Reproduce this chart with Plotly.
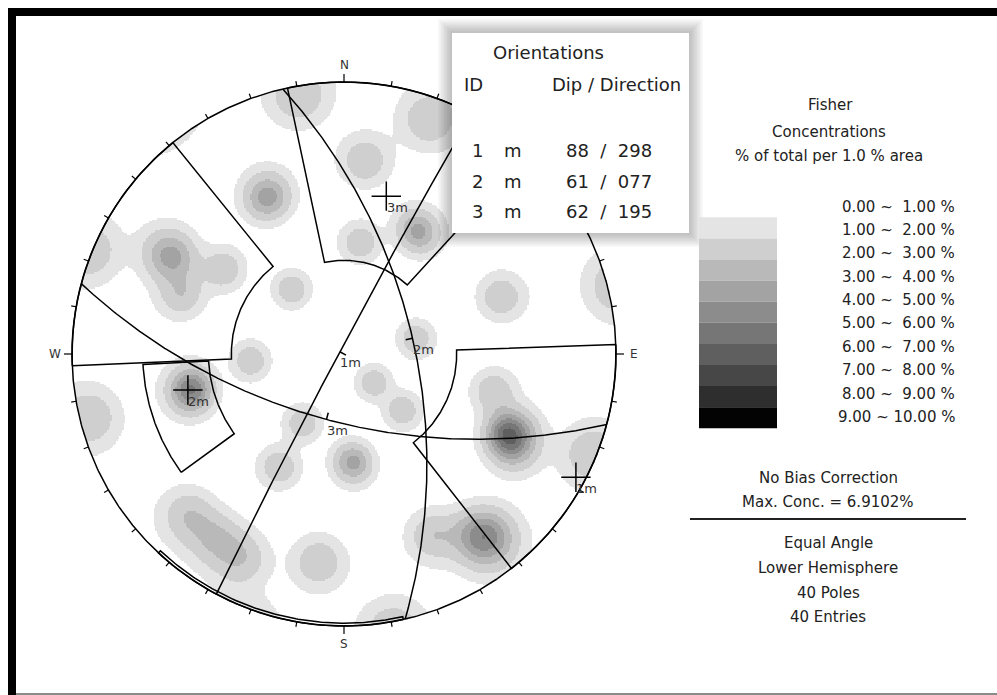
import numpy as np
import plotly.graph_objects as go

# ---------------- data ----------------
# 40 poles (trend / plunge, degrees), lower hemisphere
pole_trend = [350, 20, 333, 335, 6, 300, 299, 305, 290, 321,
              8, 29, 33, 224, 215, 207, 210, 176, 175, 211,
              134, 134, 78, 266, 257, 255, 259, 116, 115, 116,
              119, 104, 70, 256, 112, 154, 144, 141, 143, 187]
pole_plunge = [2, 5, 25, 24, 19, 16, 19, 33, 25, 56,
               45, 34, 35, 11, 11, 10, 39, 48, 45, 57,
               73, 57, 60, 52, 29, 30, 31, 22, 22, 23,
               19, 31, 27, 2, 1, 17, 12, 9, 8, 15]

# mean set planes
set_id = ["1", "2", "3"]
set_dip = [88, 61, 62]
set_dipdir = [298, 77, 195]

# set windows (trend range / plunge range)
win_trend_min = [348, 267.5, 234, 88, 167.4]
win_trend_max = [402.5, 321, 267, 142, 223]
win_plunge_min = [0, 0, 17, 0, 0]
win_plunge_max = [52, 45, 37, 45, 0.6]

band_labels = ["0.00 ~  1.00 %", "1.00 ~  2.00 %", "2.00 ~  3.00 %",
               "3.00 ~  4.00 %", "4.00 ~  5.00 %", "5.00 ~  6.00 %",
               "6.00 ~  7.00 %", "7.00 ~  8.00 %", "8.00 ~  9.00 %",
               "9.00 ~ 10.00 %"]
band_colors = ["#e4e4e4", "#cfcfcf", "#b9b9b9", "#a3a3a3", "#8c8c8c",
               "#767676", "#5f5f5f", "#474747", "#2e2e2e", "#030303"]

# Fisher counting parameters (% of total per 1 % area)
KAPPA = 160.0
PEAK = 1.85
FLOOR = 0.35

# ---------------- layout geometry ----------------
W, H = 997, 695
CX, CY, R = 344.0, 354.0, 272.0
FONT = "DejaVu Sans"
TXT = "#222222"


def px(x):
    return x / W


def py(y):
    return 1 - y / H


def proj(trend_deg, plunge_deg):
    t = np.radians(trend_deg)
    p = np.radians(plunge_deg)
    r = np.tan((np.pi / 2 - p) / 2)
    return r * np.sin(t), r * np.cos(t)


def vec(trend_deg, plunge_deg):
    t = np.radians(np.asarray(trend_deg, float))
    p = np.radians(np.asarray(plunge_deg, float))
    return np.stack([np.cos(p) * np.sin(t), np.cos(p) * np.cos(t), np.sin(p)], -1)


# ---------------- density grid ----------------
G = 363
g = np.linspace(-1, 1, G)
X, Y = np.meshgrid(g, g)
RR = np.sqrt(X ** 2 + Y ** 2)
inside = RR <= 1.0
phi = 2 * np.arctan(np.minimum(RR, 1.0))
T = np.arctan2(X, Y)
V = np.stack([np.sin(phi) * np.sin(T), np.sin(phi) * np.cos(T), np.cos(phi)], -1)
P = vec(pole_trend, pole_plunge)
dots = np.abs(np.einsum("ijk,nk->ijn", V, P))
density = PEAK * np.exp(KAPPA * (dots - 1)).sum(-1)
band = np.clip(np.floor(density), 0, 9) + 0.5
Z = np.where(inside & (density >= FLOOR), band, np.nan)

cscale = []
for k, c in enumerate(band_colors):
    cscale.append([k / 10, c])
    cscale.append([(k + 1) / 10, c])

fig = go.Figure()
fig.add_trace(go.Heatmap(x=g, y=g, z=Z, zmin=0, zmax=10, colorscale=cscale,
                         showscale=False, zsmooth=False, hoverinfo="skip"))

LINE = dict(color="black", width=1.5)

# primitive circle
a = np.linspace(0, 2 * np.pi, 721)
fig.add_trace(go.Scatter(x=np.sin(a), y=np.cos(a), mode="lines", line=LINE,
                         hoverinfo="skip", showlegend=False))

# azimuth ticks
tx, ty = [], []
for az in range(0, 360, 10):
    L = 8 if az % 90 == 0 else 5
    s, c = np.sin(np.radians(az)), np.cos(np.radians(az))
    tx += [s, s * (1 + L / R), None]
    ty += [c, c * (1 + L / R), None]
fig.add_trace(go.Scatter(x=tx, y=ty, mode="lines", line=dict(color="black", width=1.2),
                         hoverinfo="skip", showlegend=False))

# set windows
wx, wy = [], []
for t0, t1, p0, p1 in zip(win_trend_min, win_trend_max, win_plunge_min, win_plunge_max):
    ts = np.linspace(t0, t1, 120)
    ox, oy = proj(ts, np.full_like(ts, p0))
    ix, iy = proj(ts[::-1], np.full_like(ts, p1))
    xs = np.concatenate([ox, ix, ox[:1]])
    ys = np.concatenate([oy, iy, oy[:1]])
    wx += list(xs) + [None]
    wy += list(ys) + [None]
fig.add_trace(go.Scatter(x=wx, y=wy, mode="lines", line=LINE,
                         hoverinfo="skip", showlegend=False))

# great circles, apex stubs and labels
gx, gy, sx, sy = [], [], [], []
annotations = []
for sid, dip, dd in zip(set_id, set_dip, set_dipdir):
    al, de = np.radians(dd), np.radians(dip)
    s_vec = np.array([np.sin(al - np.pi / 2), np.cos(al - np.pi / 2), 0.0])
    d_vec = np.array([np.sin(al) * np.cos(de), np.cos(al) * np.cos(de), np.sin(de)])
    lam = np.radians(np.linspace(0, 180, 361))
    v = np.cos(lam)[:, None] * s_vec + np.sin(lam)[:, None] * d_vec
    pl = np.degrees(np.arcsin(np.clip(v[:, 2], -1, 1)))
    tr = np.degrees(np.arctan2(v[:, 0], v[:, 1]))
    x, y = proj(tr, pl)
    gx += list(x) + [None]
    gy += list(y) + [None]
    ax_, ay_ = proj(dd, dip)
    pxp, pyp = proj(dd + 180, 90 - dip)
    dx, dy = pxp - ax_, pyp - ay_
    n = np.hypot(dx, dy)
    sx += [ax_, ax_ + dx / n * 7 / R, None]
    sy += [ay_, ay_ + dy / n * 7 / R, None]
    annotations.append(dict(x=ax_, y=ay_, xref="x", yref="y", text=sid + "m",
                            showarrow=False, xshift=11, yshift=-11,
                            font=dict(family=FONT, size=13, color="#333333")))
    annotations.append(dict(x=pxp, y=pyp, xref="x", yref="y", text=sid + "m",
                            showarrow=False, xshift=11, yshift=-11,
                            font=dict(family=FONT, size=13, color="#333333")))
    fig.add_trace(go.Scatter(x=[pxp], y=[pyp], mode="markers",
                             marker=dict(symbol="cross-thin", size=21,
                                         line=dict(color="black", width=1.5)),
                             hoverinfo="skip", showlegend=False))
fig.add_trace(go.Scatter(x=gx, y=gy, mode="lines", line=LINE,
                         hoverinfo="skip", showlegend=False))
fig.add_trace(go.Scatter(x=sx, y=sy, mode="lines", line=LINE,
                         hoverinfo="skip", showlegend=False))

# compass letters
for lab, az in [("N", 0), ("E", 90), ("S", 180), ("W", 270)]:
    rr = 1 + 17.5 / R
    annotations.append(dict(x=rr * np.sin(np.radians(az)), y=rr * np.cos(np.radians(az)),
                            xref="x", yref="y", text=lab, showarrow=False,
                            font=dict(family=FONT, size=12, color="#333333")))

shapes = []
# outer frame
shapes.append(dict(type="rect", xref="paper", yref="paper", x0=px(8), x1=px(16),
                   y0=py(695), y1=py(8), fillcolor="black", line=dict(width=0), layer="above"))
shapes.append(dict(type="rect", xref="paper", yref="paper", x0=px(8), x1=px(997),
                   y0=py(16), y1=py(8), fillcolor="black", line=dict(width=0), layer="above"))
shapes.append(dict(type="rect", xref="paper", yref="paper", x0=px(16), x1=px(997),
                   y0=py(695), y1=py(693), fillcolor="#8a8a8a", line=dict(width=0), layer="above"))

# orientations box with soft shadow
bx0, by0, bx1, by1 = 452, 33, 689, 233
for i in range(9):
    e = 14 - i * 1.5
    shapes.append(dict(type="rect", xref="paper", yref="paper",
                       x0=px(bx0 - e), x1=px(bx1 + e), y0=py(by1 + e), y1=py(by0 - e),
                       fillcolor="rgba(0,0,0,0.028)", line=dict(width=0), layer="above"))
shapes.append(dict(type="rect", xref="paper", yref="paper", x0=px(bx0), x1=px(bx1),
                   y0=py(by1), y1=py(by0), fillcolor="white", line=dict(width=0), layer="above"))


def note(text, x, y, size, xanchor="center"):
    annotations.append(dict(x=px(x), y=py(y), xref="paper", yref="paper", text=text,
                            showarrow=False, xanchor=xanchor, yanchor="middle",
                            font=dict(family=FONT, size=size, color=TXT)))


NB = "\u00a0"
note("Orientations", 548, 52, 18)
note("ID", 473, 84, 18)
note("Dip / Direction", 616, 84, 18)
for i, (sid, dip, dd) in enumerate(zip(set_id, set_dip, set_dipdir)):
    yy = 150 + i * 31
    note(sid, 477, yy, 18)
    note("m", 513, yy, 18)
    note(f"{dip:02d}{NB}{NB}/{NB}{NB}{dd:03d}", 609, yy, 18)

# concentration legend
note("Fisher", 830, 105, 15)
note("Concentrations", 829, 132, 15)
note("% of total per 1.0 % area", 829, 156, 15)
bar_top, bar_h = 217.3, 21.1
for k, (lab, col) in enumerate(zip(band_labels, band_colors)):
    shapes.append(dict(type="rect", xref="paper", yref="paper", x0=px(699), x1=px(777),
                       y0=py(bar_top + (k + 1) * bar_h), y1=py(bar_top + k * bar_h),
                       fillcolor=col, line=dict(width=0), layer="above"))
    note(lab.replace(" ", NB), 957, 206.7 + k * 23.35, 15, xanchor="right")

note("No Bias Correction", 828, 478, 15)
note("Max. Conc. = 6.9102%", 828, 502, 15)
shapes.append(dict(type="line", xref="paper", yref="paper", x0=px(690), x1=px(966),
                   y0=py(519), y1=py(519), line=dict(color="#222222", width=2), layer="above"))
note("Equal Angle", 828, 543, 15)
note("Lower Hemisphere", 828, 568, 15)
note("40 Poles", 828, 593, 15)
note("40 Entries", 828, 617, 15)

fig.update_layout(
    width=W, height=H, margin=dict(l=0, r=0, t=0, b=0),
    paper_bgcolor="white", plot_bgcolor="white",
    xaxis=dict(range=[-CX / R, (W - CX) / R], visible=False, fixedrange=True),
    yaxis=dict(range=[(CY - H) / R, CY / R], visible=False, fixedrange=True),
    shapes=shapes, annotations=annotations, showlegend=False,
    font=dict(family=FONT),
)

fig.write_html("out.html")
